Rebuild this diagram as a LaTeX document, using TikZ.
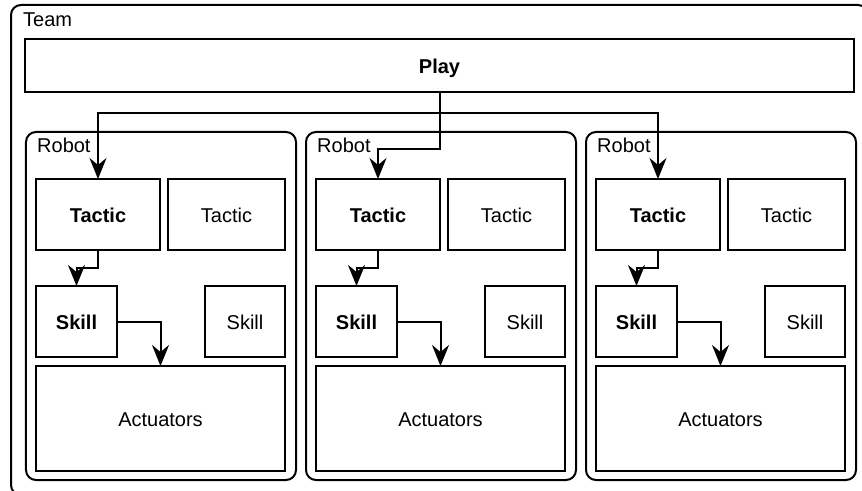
\documentclass[tikz,border=0pt]{standalone}
\usepackage{fontspec}
\setmainfont{Liberation Sans}
\usetikzlibrary{arrows.meta}
\begin{document}
\begin{tikzpicture}[x=1bp,y=-1bp,
  every node/.style={font=\fontsize{20bp}{24bp}\selectfont, text height=16bp, text depth=0pt},
  box/.style={draw, line width=2bp, rectangle, inner sep=0pt, outer sep=0pt, fill=white},
  frame/.style={draw, line width=2bp, rounded corners=10bp},
  lbl/.style={anchor=west, inner sep=0pt},
  link/.style={line width=2bp, -{Stealth[length=21bp,width=17bp,inset=7bp]}}
]
\useasboundingbox (0,0) rectangle (862,491);
% team
\draw[frame] (11,5) rectangle (868,495);
\node[lbl] (teamlbl) at (23,19) {Team};
% play
\node[box, minimum width=829bp, minimum height=53bp] (play) at (439.5,65.5) {\textbf{Play}};
% robots
\foreach \i/\ox in {1/0,2/280,3/560}{
  \node[frame, rectangle, minimum width=270bp, minimum height=348bp, inner sep=0pt, outer sep=0pt] (r\i) at (161+\ox,306) {};
  \node[lbl] (rl\i) at (37+\ox,145) {Robot};
  \node[box, minimum width=124bp, minimum height=71bp] (t\i) at (98+\ox,214.5) {\textbf{Tactic}};
  \node[box, minimum width=117bp, minimum height=71bp] (tb\i) at (226.5+\ox,214.5) {Tactic};
  \node[box, minimum width=81bp, minimum height=71bp] (s\i) at (76.5+\ox,321.5) {\textbf{Skill}};
  \node[box, minimum width=80bp, minimum height=71bp] (sb\i) at (245+\ox,321.5) {Skill};
  \node[box, minimum width=249bp, minimum height=105bp] (a\i) at (160.5+\ox,418.5) {Actuators};
  \draw[link] (t\i.south) -- ++(0,18) -| (s\i.north);
  \draw[link] (s\i.east) -| (a\i.north);
}
% play links
\draw[link] (play.south) -- ++(0,21) -| (t1.north);
\draw[link] (play.south) -- ++(0,21) -| (t3.north);
\draw[link] (play.south) -- ++(0,57) -| (t2.north);
\end{tikzpicture}
\end{document}
